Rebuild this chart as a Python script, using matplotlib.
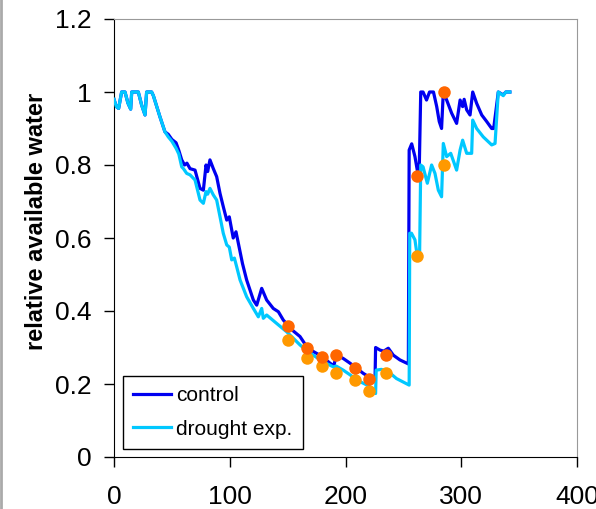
import matplotlib
matplotlib.use("Agg")
import matplotlib.pyplot as plt
from matplotlib.lines import Line2D

plt.rcParams['font.family'] = ['Liberation Sans', 'DejaVu Sans']

ctrl_x = [0, 2, 4, 6.6, 9.5, 12, 14.4, 15.3, 21, 23.9, 26.8, 28.2, 32.5, 34, 39.7, 44, 46.9, 50, 53.6, 56,
          58.5, 61, 63, 65.7, 70, 74.3, 77.2, 79.5, 80.9, 82.9, 85.8, 88.7, 91.6, 94.4, 97.4, 99.6, 103, 105.4,
          108.3, 111, 114.6, 120.4, 123.3, 127.6, 131.9, 137.6, 142, 146.3, 150.6, 155, 160.7, 167, 172.2, 180,
          186.6, 190, 192, 198, 203.9, 209.7, 215.4, 220, 225.5, 226, 229.8, 233, 237, 241.3, 247, 254.3, 255,
          257.2, 260, 262, 263.6, 265, 267, 270, 272.6, 276, 278.8, 281, 283, 284.5, 287.4, 291.7, 296, 299,
          301.2, 302.5, 304.7, 307.6, 309.9, 313.3, 317.7, 322, 326.3, 328, 329.7, 332, 336.3, 338.5, 342]
ctrl_y = [0.98, 0.96, 0.955, 1.0, 1.0, 0.97, 0.953, 1.0, 1.0, 0.964, 0.937, 1.0, 1.0, 0.99, 0.932, 0.891, 0.884,
          0.87, 0.861, 0.84, 0.814, 0.80, 0.805, 0.79, 0.786, 0.736, 0.731, 0.80, 0.782, 0.814, 0.79, 0.768,
          0.722, 0.686, 0.649, 0.658, 0.60, 0.617, 0.572, 0.53, 0.485, 0.43, 0.416, 0.462, 0.43, 0.407, 0.398,
          0.375, 0.36, 0.345, 0.33, 0.30, 0.289, 0.275, 0.257, 0.25, 0.28, 0.27, 0.257, 0.243, 0.229, 0.22,
          0.211, 0.30, 0.293, 0.29, 0.298, 0.279, 0.266, 0.255, 0.841, 0.858, 0.823, 0.786, 0.77, 1.0, 1.0,
          0.978, 1.0, 1.0, 0.96, 0.919, 0.90, 1.0, 0.978, 0.942, 0.914, 0.978, 0.96, 0.98, 0.951, 0.937, 1.0,
          0.969, 0.937, 0.919, 0.90, 0.90, 0.942, 1.0, 0.992, 1.0, 1.0]

dry_x = [0, 2, 4, 6.6, 9.5, 12, 14.4, 15.3, 21, 23.9, 26.8, 28.2, 32.5, 34, 39.7, 44, 46.9, 50, 53.6, 56, 58.5,
         60, 62.8, 65.7, 70, 74.3, 77.2, 79.5, 80.9, 82.9, 85.8, 88.7, 91.6, 94.4, 97.4, 99.6, 101.7, 104, 106,
         108.9, 114.6, 120.4, 124.7, 127.6, 129, 131.9, 140.5, 149.2, 155, 160.7, 167, 172.2, 180, 189.5, 192,
         198, 204, 209.7, 215.4, 220, 226, 226.5, 231, 237, 244, 255, 255.5, 257, 260, 262, 264, 265, 267,
         270.7, 274.4, 277.3, 280.2, 283, 284.5, 287.4, 290.9, 296, 299, 301.2, 304.7, 309, 309.9, 313.3, 319,
         326.3, 329.2, 332, 336.3, 338.5, 342]
dry_y = [0.98, 0.96, 0.955, 1.0, 1.0, 0.97, 0.953, 1.0, 1.0, 0.964, 0.937, 1.0, 1.0, 0.99, 0.932, 0.891, 0.877,
         0.865, 0.846, 0.83, 0.795, 0.79, 0.777, 0.773, 0.759, 0.704, 0.695, 0.727, 0.72, 0.736, 0.718, 0.704,
         0.658, 0.613, 0.581, 0.575, 0.54, 0.545, 0.521, 0.485, 0.439, 0.407, 0.384, 0.407, 0.38, 0.389, 0.366,
         0.343, 0.325, 0.307, 0.29, 0.279, 0.262, 0.247, 0.249, 0.238, 0.225, 0.211, 0.202, 0.195, 0.174,
         0.238, 0.240, 0.234, 0.215, 0.197, 0.613, 0.613, 0.595, 0.55, 0.55, 0.80, 0.795, 0.75, 0.80, 0.777,
         0.731, 0.713, 0.859, 0.823, 0.832, 0.786, 0.841, 0.868, 0.832, 0.832, 0.923, 0.90, 0.877, 0.855,
         0.859, 1.0, 0.99, 1.0, 1.0]

mark_x = [150, 167, 180, 192, 208, 220, 235, 262, 285]
mark_ctrl = [0.36, 0.30, 0.275, 0.28, 0.245, 0.215, 0.28, 0.77, 1.0]
mark_dry = [0.32, 0.27, 0.25, 0.23, 0.21, 0.18, 0.23, 0.55, 0.80]

fig = plt.figure(figsize=(5.96, 5.09), dpi=100)
ax = fig.add_axes([114/596, 1-457/509, 463/596, 438/509])

ax.plot(ctrl_x, ctrl_y, color='#0000F0', lw=2.3, label='control', zorder=2)
ax.plot(dry_x, dry_y, color='#00C8FF', lw=2.3, label='drought exp.', zorder=3)
ax.plot(mark_x, mark_dry, 'o', color='#FF9900', ms=9, mec='none', zorder=4)
ax.plot(mark_x, mark_ctrl, 'o', color='#FF6600', ms=9, mec='none', zorder=5)

ax.set_xlim(0, 400)
ax.set_ylim(0, 1.2)
ax.set_xticks([0, 100, 200, 300, 400])
ax.set_yticks([0, 0.2, 0.4, 0.6, 0.8, 1.0, 1.2])
ax.set_yticklabels(['0', '0.2', '0.4', '0.6', '0.8', '1', '1.2'])
ax.tick_params(axis='both', direction='out', length=7, width=1, labelsize=19, colors='black')
ax.tick_params(axis='y', pad=9)
ax.tick_params(axis='x', pad=13)
for s in ['top', 'right']:
    ax.spines[s].set_color('#999999')
for s in ['left', 'bottom']:
    ax.spines[s].set_color('black')
ax.set_ylabel('relative available water', fontsize=17, fontweight='bold')
ax.yaxis.set_label_coords(-0.143, 0.537)

leg = ax.legend(loc='lower left', bbox_to_anchor=(0.019, 0.018), borderaxespad=0, fontsize=15,
                frameon=True, fancybox=False, edgecolor='black', framealpha=1,
                handlelength=1.8, handletextpad=0.25, borderpad=0.5, labelspacing=0.7)
leg.get_frame().set_linewidth(1)

fig.add_artist(Line2D([0.002, 0.002], [0, 1], transform=fig.transFigure, color='#aaaaaa', lw=2))

fig.savefig('out.png', dpi=100)
